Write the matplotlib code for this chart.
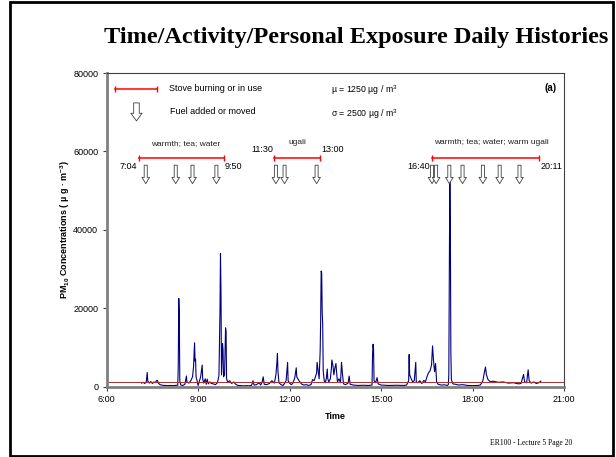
import matplotlib.pyplot as plt
from matplotlib.patches import Rectangle

plt.rcParams['font.family'] = ['Liberation Sans', 'DejaVu Sans']
plt.rcParams['mathtext.default'] = 'regular'

# PM10 readings (time of day, ug/m3)
times = ["7:09", "7:12", "7:15", "7:18", "7:20", "7:21", "7:24", "7:27", "7:30", "7:33",
         "7:36", "7:38", "7:40", "7:42", "7:45", "7:50", "7:55", "8:00", "8:05", "8:10",
         "8:15", "8:20", "8:21", "8:22", "8:23", "8:24", "8:26", "8:30", "8:34", "8:37",
         "8:38", "8:42", "8:46", "8:49", "8:51", "8:53", "8:54", "8:55", "8:56", "8:58",
         "9:00", "9:02", "9:05", "9:08", "9:09", "9:11", "9:14", "9:16", "9:18", "9:20",
         "9:23", "9:26", "9:30", "9:34", "9:38", "9:41", "9:43", "9:44", "9:45", "9:46",
         "9:48", "9:49", "9:50", "9:52", "9:54", "9:55", "9:56", "9:58", "10:02", "10:06",
         "10:10", "10:14", "10:18", "10:25", "10:30", "10:35", "10:40", "10:45", "10:48", "10:50",
         "10:55", "11:00", "11:03", "11:06", "11:08", "11:10", "11:15", "11:20", "11:25", "11:30",
         "11:33", "11:35", "11:36", "11:37", "11:39", "11:43", "11:47", "11:50", "11:53", "11:56",
         "11:57", "12:00", "12:03", "12:06", "12:10", "12:13", "12:14", "12:17", "12:20", "12:24",
         "12:28", "12:33", "12:37", "12:42", "12:45", "12:48", "12:50", "12:53", "12:54", "12:56",
         "12:58", "13:00", "13:01", "13:02", "13:03", "13:04", "13:05", "13:06", "13:08", "13:10",
         "13:12", "13:14", "13:15", "13:17", "13:20", "13:22", "13:23", "13:25", "13:27", "13:29",
         "13:31", "13:32", "13:34", "13:37", "13:40", "13:42", "13:44", "13:46", "13:50", "13:55",
         "13:57", "13:59", "14:05", "14:15", "14:25", "14:35", "14:42", "14:43", "14:44", "14:45",
         "14:46", "14:49", "14:52", "14:54", "15:00", "15:15", "15:30", "15:45", "15:50", "15:54",
         "15:55", "15:56", "15:59", "16:02", "16:05", "16:08", "16:09", "16:12", "16:16", "16:20",
         "16:24", "16:27", "16:30", "16:33", "16:36", "16:39", "16:41", "16:43", "16:45", "16:47",
         "16:49", "16:52", "16:58", "17:05", "17:10", "17:12", "17:13", "17:14", "17:15", "17:16",
         "17:17", "17:18", "17:21", "17:26", "17:32", "17:40", "17:50", "18:00", "18:10", "18:15",
         "18:20", "18:22", "18:25", "18:27", "18:30", "18:35", "18:40", "18:50", "19:00", "19:10",
         "19:20", "19:30", "19:35", "19:40", "19:42", "19:46", "19:49", "19:51", "19:55", "20:00",
         "20:05", "20:10", "20:14"]
pm10 = [900, 1100, 800, 1200, 3600, 1400, 900, 1300, 800, 1200,
        1000, 1500, 1600, 900, 500, 350, 300, 250, 300, 250,
        300, 350, 5500, 22500, 18500, 1500, 400, 300, 600, 2700,
        1200, 900, 1600, 2500, 5000, 11200, 6500, 7000, 2500, 1500,
        300, 1200, 2500, 5500, 2000, 900, 2000, 600, 1900, 700,
        1200, 800, 700, 500, 1000, 2800, 19000, 34000, 24000, 3000,
        11000, 9500, 2500, 3000, 15000, 14000, 2000, 1200, 1500, 800,
        1200, 600, 300, 250, 200, 250, 200, 300, 1500, 400,
        500, 1000, 400, 1200, 2500, 600, 500, 800, 1500, 900,
        3000, 6300, 8500, 4000, 1000, 500, 300, 800, 1500, 6200,
        1500, 900, 500, 800, 2200, 4800, 2500, 1800, 1200, 600,
        400, 500, 300, 500, 1800, 1500, 2200, 3500, 6200, 4000,
        2000, 9000, 17000, 29500, 29000, 19000, 16000, 4000, 1500, 1000,
        2000, 4500, 2000, 1200, 2000, 4500, 6800, 5500, 3000, 4800,
        5900, 4200, 1200, 2000, 1000, 6200, 3000, 700, 500, 900,
        2700, 600, 400, 300, 350, 300, 400, 8000, 10800, 9500,
        1500, 1000, 2300, 700, 400, 300, 350, 300, 400, 1500,
        8200, 3000, 2000, 1200, 1500, 6200, 1200, 1000, 1500, 800,
        1600, 1200, 2500, 3500, 4000, 5500, 10400, 6500, 3800, 5900,
        1200, 600, 400, 450, 300, 500, 3000, 31000, 55000, 41000,
        9000, 1800, 700, 600, 400, 500, 300, 250, 300, 400,
        1500, 3000, 5000, 3000, 1800, 1200, 1400, 1100, 1200, 900,
        1000, 700, 800, 3100, 1200, 1000, 4300, 1500, 900, 1200,
        800, 1000, 1400]

mean_pm = 1250
sd_pm = 2500

# stove use periods
stove_start = ["7:04", "11:30", "16:40"]
stove_end = ["9:50", "13:00", "20:11"]
stove_label = ["warmth; tea; water", "ugali", "warmth; tea; water; warm ugali"]

# fuel added / moved
fuel_times = ["7:17", "8:16", "8:49", "9:36", "11:33", "11:50", "12:53",
              "16:40", "16:48", "17:14", "17:40", "18:20", "18:53", "19:32"]

xticks = [6, 9, 12, 15, 18, 21]
xticklabels = ["6:00", "9:00", "12:00", "15:00", "18:00", "21:00"]
yticks = [0, 20000, 40000, 60000, 80000]


def hrs(s):
    h, m = s.split(":")
    return int(h) + int(m) / 60


fig = plt.figure(figsize=(6.16, 4.57), dpi=100)
fig.patches.append(Rectangle((0.017, 0.003), 0.978, 0.992, transform=fig.transFigure,
                             fill=False, ec='black', lw=2))
fig.text(0.578, 0.918, "Time/Activity/Personal Exposure Daily Histories",
         family='Liberation Serif', weight='bold', fontsize=17.5, ha='center', va='center')
fig.text(0.862, 0.031, "ER100 - Lecture 5 Page 20", family='Liberation Serif',
         fontsize=5.5, ha='center', va='center')

ax = fig.add_axes([0.173, 0.154, 0.743, 0.686])
t = [hrs(s) for s in times]
ax.plot(t, pm10, color='#000080', lw=0.8)
ax.axhline(mean_pm, color='#A83030', lw=0.7)

ax.set_xlim(6, 21)
ax.set_ylim(0, 80000)
ax.set_xticks(xticks)
ax.set_xticklabels(xticklabels)
ax.set_yticks(yticks)
ax.tick_params(labelsize=6.5, length=3, width=0.8, color='#404040', pad=3)
for sp in ['left', 'bottom']:
    ax.spines[sp].set_color('#808080')
    ax.spines[sp].set_linewidth(2)
for sp in ['top', 'right']:
    ax.spines[sp].set_color('#404040')
    ax.spines[sp].set_linewidth(0.8)
ax.set_xlabel("Time", fontsize=6.5, weight='bold', labelpad=6)
ax.set_ylabel("PM$_{10}$ Concentrations ( µ g · m$^{-3}$)", fontsize=6.5,
              weight='bold', labelpad=1)

# stove periods
bar_y = 58300
for s, e, lab, lx, ly in zip(stove_start, stove_end, stove_label,
                             [8.6, 12.24, 18.6], [62100, 62300, 62300]):
    x0, x1 = hrs(s), hrs(e)
    ax.plot([x0, x1], [bar_y, bar_y], color='red', lw=1.1, marker='|', ms=4, mew=1)
    ax.text(lx, ly, lab, fontsize=6, ha='center', va='center', color='#202020')
    if s == "11:30":
        ax.text(x0 - 0.05, 60500, s, fontsize=6.5, ha='right', va='center')
        ax.text(x1 + 0.05, 60500, e, fontsize=6.5, ha='left', va='center')
    else:
        ax.text(x0 - 0.08, 56200, s, fontsize=6.5, ha='right', va='center')
        ax.text(x1 + 0.03, 56200, e, fontsize=6.5, ha='left', va='center')

small_arrow = dict(arrowstyle='simple,head_length=0.45,head_width=0.55,tail_width=0.22',
                   fc='white', ec='#404040', lw=0.6, shrinkA=0, shrinkB=0, mutation_scale=10)
for ft in fuel_times:
    x = hrs(ft)
    ax.annotate("", xy=(x, 51800), xytext=(x, 56500), arrowprops=small_arrow)

# legend
ax.plot([6.275, 7.65], [76000, 76000], color='red', lw=1.1, marker='|', ms=4, mew=1)
ax.text(8.04, 76000, "Stove burning or in use", fontsize=6.5, ha='left', va='center')
big_arrow = dict(arrowstyle='simple,head_length=0.55,head_width=0.8,tail_width=0.4',
                 fc='white', ec='#404040', lw=0.6, shrinkA=0, shrinkB=0, mutation_scale=10)
ax.annotate("", xy=(6.98, 67800), xytext=(6.98, 72400), arrowprops=big_arrow)
ax.text(8.07, 70250, "Fuel added or moved", fontsize=6.5, ha='left', va='center')

ax.text(13.36, 75600, "µ = %d µg / m$^3$" % mean_pm, fontsize=6.3, ha='left', va='center')
ax.text(13.36, 69500, "σ = %d µg / m$^3$" % sd_pm, fontsize=6.3, ha='left', va='center')
ax.text(20.74, 76100, "(a)", fontsize=7, weight='bold', ha='right', va='center')

fig.savefig("out.png", dpi=100)
